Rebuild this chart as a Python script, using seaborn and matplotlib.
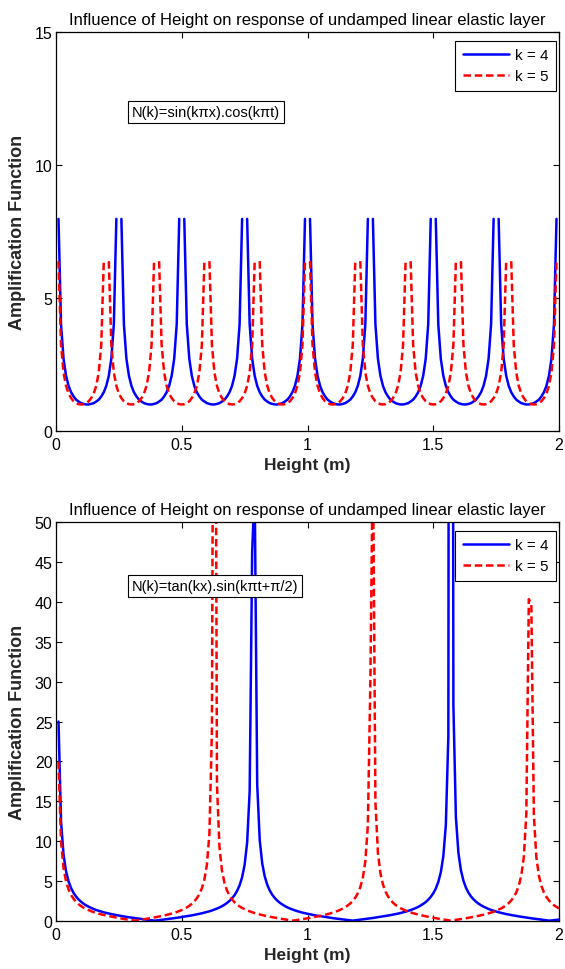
import numpy as np
import pandas as pd
import matplotlib
matplotlib.use("Agg")
import matplotlib.pyplot as plt
import seaborn as sns

NaN = float("nan")

# sampling grid of the height axis (0 .. 2 m, step 0.01 m)
height = np.linspace(0.0, 2.0, 201)

# ---- top panel: N(k)=sin(k pi x).cos(k pi t) ----
top_k4 = [
    NaN, 7.98, 4.02, 2.72, 2.08, 1.70, 1.46, 1.30, 1.18, 1.11, 1.05, 1.02, 1.00, 1.00, 1.02, 1.05, 1.11, 1.18, 1.30, 1.46, 1.70, 2.08, 2.72, 4.02, 7.98,
    NaN, 7.98, 4.02, 2.72, 2.08, 1.70, 1.46, 1.30, 1.18, 1.11, 1.05, 1.02, 1.00, 1.00, 1.02, 1.05, 1.11, 1.18, 1.30, 1.46, 1.70, 2.08, 2.72, 4.02, 7.98,
    NaN, 7.98, 4.02, 2.72, 2.08, 1.70, 1.46, 1.30, 1.18, 1.11, 1.05, 1.02, 1.00, 1.00, 1.02, 1.05, 1.11, 1.18, 1.30, 1.46, 1.70, 2.08, 2.72, 4.02, 7.98,
    NaN, 7.98, 4.02, 2.72, 2.08, 1.70, 1.46, 1.30, 1.18, 1.11, 1.05, 1.02, 1.00, 1.00, 1.02, 1.05, 1.11, 1.18, 1.30, 1.46, 1.70, 2.08, 2.72, 4.02, 7.98,
    NaN, 7.98, 4.02, 2.72, 2.08, 1.70, 1.46, 1.30, 1.18, 1.11, 1.05, 1.02, 1.00, 1.00, 1.02, 1.05, 1.11, 1.18, 1.30, 1.46, 1.70, 2.08, 2.72, 4.02, 7.98,
    NaN, 7.98, 4.02, 2.72, 2.08, 1.70, 1.46, 1.30, 1.18, 1.11, 1.05, 1.02, 1.00, 1.00, 1.02, 1.05, 1.11, 1.18, 1.30, 1.46, 1.70, 2.08, 2.72, 4.02, 7.98,
    NaN, 7.98, 4.02, 2.72, 2.08, 1.70, 1.46, 1.30, 1.18, 1.11, 1.05, 1.02, 1.00, 1.00, 1.02, 1.05, 1.11, 1.18, 1.30, 1.46, 1.70, 2.08, 2.72, 4.02, 7.98,
    NaN, 7.98, 4.02, 2.72, 2.08, 1.70, 1.46, 1.30, 1.18, 1.11, 1.05, 1.02, 1.00, 1.00, 1.02, 1.05, 1.11, 1.18, 1.30, 1.46, 1.70, 2.08, 2.72, 4.02, 7.98,
    NaN,
]
top_k5 = [
    NaN, 6.39, 3.24, 2.20, 1.70, 1.41, 1.24, 1.12, 1.05, 1.01, 1.00, 1.01, 1.05, 1.12, 1.24, 1.41, 1.70, 2.20, 3.24, 6.39,
    NaN, 6.39, 3.24, 2.20, 1.70, 1.41, 1.24, 1.12, 1.05, 1.01, 1.00, 1.01, 1.05, 1.12, 1.24, 1.41, 1.70, 2.20, 3.24, 6.39,
    NaN, 6.39, 3.24, 2.20, 1.70, 1.41, 1.24, 1.12, 1.05, 1.01, 1.00, 1.01, 1.05, 1.12, 1.24, 1.41, 1.70, 2.20, 3.24, 6.39,
    NaN, 6.39, 3.24, 2.20, 1.70, 1.41, 1.24, 1.12, 1.05, 1.01, 1.00, 1.01, 1.05, 1.12, 1.24, 1.41, 1.70, 2.20, 3.24, 6.39,
    NaN, 6.39, 3.24, 2.20, 1.70, 1.41, 1.24, 1.12, 1.05, 1.01, 1.00, 1.01, 1.05, 1.12, 1.24, 1.41, 1.70, 2.20, 3.24, 6.39,
    NaN, 6.39, 3.24, 2.20, 1.70, 1.41, 1.24, 1.12, 1.05, 1.01, 1.00, 1.01, 1.05, 1.12, 1.24, 1.41, 1.70, 2.20, 3.24, 6.39,
    NaN, 6.39, 3.24, 2.20, 1.70, 1.41, 1.24, 1.12, 1.05, 1.01, 1.00, 1.01, 1.05, 1.12, 1.24, 1.41, 1.70, 2.20, 3.24, 6.39,
    NaN, 6.39, 3.24, 2.20, 1.70, 1.41, 1.24, 1.12, 1.05, 1.01, 1.00, 1.01, 1.05, 1.12, 1.24, 1.41, 1.70, 2.20, 3.24, 6.39,
    NaN, 6.39, 3.24, 2.20, 1.70, 1.41, 1.24, 1.12, 1.05, 1.01, 1.00, 1.01, 1.05, 1.12, 1.24, 1.41, 1.70, 2.20, 3.24, 6.39,
    NaN, 6.39, 3.24, 2.20, 1.70, 1.41, 1.24, 1.12, 1.05, 1.01, 1.00, 1.01, 1.05, 1.12, 1.24, 1.41, 1.70, 2.20, 3.24, 6.39,
    NaN,
]

# ---- bottom panel: N(k)=tan(kx).sin(k pi t + pi/2) ----
bot_k4 = [
    NaN, 24.99, 12.47, 8.29, 6.20, 4.93, 4.09, 3.48, 3.02, 2.66,
    2.37, 2.12, 1.92, 1.75, 1.60, 1.46, 1.34, 1.24, 1.14, 1.05,
    0.97, 0.90, 0.83, 0.76, 0.70, 0.64, 0.59, 0.53, 0.48, 0.44,
    0.39, 0.34, 0.30, 0.26, 0.21, 0.17, 0.13, 0.09, 0.05, 0.01,
    0.03, 0.07, 0.11, 0.15, 0.19, 0.23, 0.28, 0.32, 0.36, 0.41,
    0.46, 0.51, 0.56, 0.61, 0.67, 0.73, 0.79, 0.86, 0.93, 1.01,
    1.09, 1.18, 1.28, 1.40, 1.52, 1.66, 1.82, 2.01, 2.23, 2.49,
    2.81, 3.21, 3.74, 4.44, 5.45, 7.02, 9.81, 16.22, 46.31, 54.31,
    17.10, 10.13, 7.18, 5.55, 4.51, 3.78, 3.25, 2.84, 2.52, 2.25,
    2.03, 1.84, 1.67, 1.53, 1.41, 1.29, 1.19, 1.10, 1.01, 0.94,
    0.86, 0.80, 0.73, 0.67, 0.62, 0.56, 0.51, 0.46, 0.41, 0.37,
    0.32, 0.28, 0.24, 0.19, 0.15, 0.11, 0.07, 0.03, 0.01, 0.05,
    0.09, 0.13, 0.17, 0.21, 0.25, 0.30, 0.34, 0.39, 0.43, 0.48,
    0.53, 0.58, 0.64, 0.70, 0.76, 0.82, 0.89, 0.97, 1.05, 1.13,
    1.23, 1.33, 1.45, 1.58, 1.73, 1.91, 2.11, 2.34, 2.63, 2.99,
    3.44, 4.03, 4.85, 6.07, 8.08, 11.99, 23.14, 313.97, 27.15, 12.99,
    8.52, 6.33, 5.02, 4.14, 3.52, 3.05, 2.68, 2.39, 2.14, 1.94,
    1.76, 1.61, 1.47, 1.35, 1.25, 1.15, 1.06, 0.98, 0.90, 0.83,
    0.77, 0.70, 0.65, 0.59, 0.54, 0.49, 0.44, 0.39, 0.35, 0.30,
    0.26, 0.22, 0.18, 0.13, 0.09, 0.05, 0.01, 0.03, 0.07, 0.11,
    0.15,
]
bot_k5 = [
    NaN, 19.98, 9.97, 6.62, 4.93, 3.92, 3.23, 2.74, 2.37, 2.07,
    1.83, 1.63, 1.46, 1.32, 1.19, 1.07, 0.97, 0.88, 0.79, 0.72,
    0.64, 0.57, 0.51, 0.45, 0.39, 0.33, 0.28, 0.22, 0.17, 0.12,
    0.07, 0.02, 0.03, 0.08, 0.13, 0.18, 0.23, 0.29, 0.34, 0.40,
    0.46, 0.52, 0.58, 0.65, 0.73, 0.81, 0.89, 0.99, 1.09, 1.21,
    1.34, 1.49, 1.66, 1.87, 2.12, 2.42, 2.81, 3.33, 4.06, 5.16,
    7.02, 10.89, 24.03, 118.90, 17.10, 9.19, 6.26, 4.73, 3.78, 3.14,
    2.67, 2.31, 2.03, 1.79, 1.60, 1.44, 1.29, 1.17, 1.06, 0.96,
    0.86, 0.78, 0.70, 0.63, 0.56, 0.50, 0.44, 0.38, 0.32, 0.27,
    0.22, 0.16, 0.11, 0.06, 0.01, 0.04, 0.09, 0.14, 0.19, 0.24,
    0.30, 0.35, 0.41, 0.47, 0.53, 0.60, 0.67, 0.74, 0.82, 0.91,
    1.00, 1.11, 1.23, 1.36, 1.52, 1.69, 1.91, 2.16, 2.48, 2.89,
    3.44, 4.21, 5.40, 7.46, 11.99, 30.12, 59.47, 14.95, 8.52, 5.94,
    4.54, 3.66, 3.05, 2.60, 2.26, 1.98, 1.76, 1.57, 1.41, 1.27,
    1.15, 1.04, 0.94, 0.85, 0.77, 0.69, 0.62, 0.55, 0.49, 0.43,
    0.37, 0.31, 0.26, 0.21, 0.16, 0.10, 0.05, 0.00, 0.05, 0.10,
    0.15, 0.20, 0.25, 0.30, 0.36, 0.42, 0.48, 0.54, 0.61, 0.68,
    0.75, 0.84, 0.92, 1.02, 1.13, 1.25, 1.39, 1.54, 1.73, 1.95,
    2.21, 2.54, 2.97, 3.55, 4.37, 5.66, 7.97, 13.35, 40.35, 39.64,
    13.27, 7.94, 5.65, 4.37, 3.54, 2.97, 2.54, 2.21, 1.94, 1.73,
    1.54,
]

series_labels = ["k = 4", "k = 5"]
xtick_values = [0, 0.5, 1, 1.5, 2]
xtick_labels = ["0", "0.5", "1", "1.5", "2"]
top_yticks = [0, 5, 10, 15]
bot_yticks = [0, 5, 10, 15, 20, 25, 30, 35, 40, 45, 50]
title_text = "Influence of Height on response of undamped linear elastic layer"
top_note = "N(k)=sin(kπx).cos(kπt)"
bot_note = "N(k)=tan(kx).sin(kπt+π/2)"
x_label = "Height (m)"
y_label = "Amplification Function"

sns.set_style("ticks")
plt.rcParams["font.family"] = ["Liberation Sans", "DejaVu Sans"]
plt.rcParams["axes.edgecolor"] = "black"
plt.rcParams["xtick.color"] = "black"
plt.rcParams["ytick.color"] = "black"
plt.rcParams["text.color"] = "black"


def long_frame(k4, k5):
    frames = []
    for lab, vals in zip(series_labels, [k4, k5]):
        v = np.asarray(vals, dtype=float)
        assert len(v) == len(height)
        seg = np.cumsum(np.isnan(v))
        frames.append(pd.DataFrame({
            "Height": height, "Amp": v, "series": lab,
            "seg": [f"{lab}-{s}" for s in seg],
        }))
    return pd.concat(frames, ignore_index=True)


palette = {"k = 4": "#0000ff", "k = 5": "#ff0000"}
dashes = {"k = 4": "", "k = 5": (3, 1.5)}

fig = plt.figure(figsize=(5.65, 9.7), dpi=100)
ax1 = fig.add_axes([0.0991, 0.5546, 0.8903, 0.4111])
ax2 = fig.add_axes([0.0991, 0.0498, 0.8903, 0.4107])

panels = [
    (ax1, top_k4, top_k5, (0, 15), top_yticks, top_note, 12.0),
    (ax2, bot_k4, bot_k5, (0, 50), bot_yticks, bot_note, 42.0),
]

for ax, k4, k5, ylim, yticks, note, note_y in panels:
    df = long_frame(k4, k5)
    sns.lineplot(data=df, x="Height", y="Amp", hue="series", style="series",
                 units="seg", estimator=None, sort=False, palette=palette,
                 dashes=dashes, linewidth=1.8, ax=ax, legend=True)
    ax.set_xlim(0, 2)
    ax.set_ylim(*ylim)
    ax.set_xticks(xtick_values)
    ax.set_xticklabels(xtick_labels)
    ax.set_yticks(yticks)
    ax.tick_params(direction="in", top=True, right=True, length=4, width=0.8,
                   labelsize=11.5)
    ax.tick_params(axis="x", pad=4.5)
    ax.tick_params(axis="y", pad=2.5)
    for sp in ax.spines.values():
        sp.set_visible(True)
        sp.set_linewidth(0.9)
        sp.set_color("black")
    ax.set_title(title_text, fontsize=12, pad=6)
    ax.set_xlabel(x_label, fontsize=12.5, fontweight="bold", labelpad=3.5)
    ax.set_ylabel(y_label, fontsize=13, fontweight="bold", labelpad=6)
    ax.text(0.302, note_y, note, fontsize=10.5, ha="left", va="center",
            bbox=dict(boxstyle="square,pad=0.25", fc="white", ec="black", lw=0.8))
    leg = ax.get_legend()
    handles = list(leg.legend_handles)
    labels = [t.get_text() for t in leg.get_texts()]
    leg.remove()
    ax.legend(handles, labels, loc="upper right",
              bbox_to_anchor=(0.994, 0.979), borderaxespad=0, frameon=True,
              fancybox=False, edgecolor="black", framealpha=1, fontsize=11,
              handlelength=3.0, handletextpad=0.4, labelspacing=0.45,
              borderpad=0.5)
    ax.get_legend().get_frame().set_linewidth(0.8)

fig.savefig("out.png", dpi=100)
